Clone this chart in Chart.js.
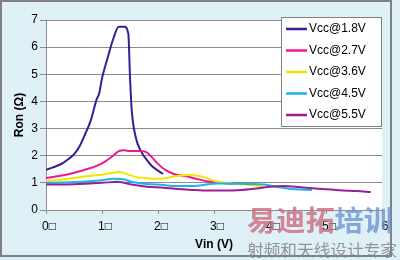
<!DOCTYPE html>
<html>
<head>
<meta charset="utf-8">
<script src="https://cdn.jsdelivr.net/npm/chart.js"></script>
<style>
  body { margin: 0; background: #dff0f7; }
  #wrap { width: 400px; height: 260px; }
</style>
</head>
<body>
<div id="wrap"><canvas id="chart" width="400" height="260"></canvas></div>
<script>
// Ron vs Vin, one curve per supply voltage
var seriesNames = ["Vcc@1.8V", "Vcc@2.7V", "Vcc@3.6V", "Vcc@4.5V", "Vcc@5.5V"];
var seriesColors = ["#3a1c94", "#f0168e", "#f2e600", "#1cb2ea", "#9a1e94"];

var vin18 = [0, 0.1, 0.2, 0.3, 0.4, 0.5, 0.6, 0.7, 0.8, 0.9, 0.95, 1.0, 1.1, 1.2, 1.3, 1.4, 1.47, 1.5, 1.53, 1.6, 1.7, 1.8, 1.9, 2.0, 2.09];
var ron18 = [1.48, 1.55, 1.63, 1.73, 1.88, 2.05, 2.35, 2.8, 3.3, 4.05, 4.3, 4.85, 5.6, 6.3, 6.75, 6.75, 6.5, 4.9, 3.7, 2.7, 2.15, 1.85, 1.6, 1.45, 1.33];

var vin27 = [0, 0.2, 0.4, 0.6, 0.8, 1.0, 1.2, 1.3, 1.4, 1.5, 1.6, 1.7, 1.8, 1.9, 2.0, 2.1, 2.2, 2.3, 2.5, 2.7, 2.9, 3.1, 3.3, 3.45];
var ron27 = [1.18, 1.24, 1.32, 1.43, 1.55, 1.72, 2.0, 2.17, 2.2, 2.17, 2.17, 2.17, 2.12, 1.92, 1.7, 1.52, 1.4, 1.32, 1.24, 1.14, 1.05, 1.0, 0.97, 0.96];

var vin36 = [0, 0.2, 0.5, 0.8, 1.0, 1.15, 1.3, 1.45, 1.6, 1.8, 2.0, 2.2, 2.4, 2.6, 2.8, 3.0, 3.2, 3.4, 3.6, 3.9];
var ron36 = [1.07, 1.1, 1.18, 1.26, 1.3, 1.35, 1.4, 1.32, 1.22, 1.17, 1.15, 1.2, 1.27, 1.29, 1.22, 1.08, 1.0, 0.96, 0.93, 0.86];

var vin45 = [0, 0.5, 1.0, 1.2, 1.35, 1.55, 1.8, 2.1, 2.3, 2.6, 2.8, 3.05, 3.3, 3.6, 3.9, 4.1, 4.4, 4.75];
var ron45 = [1.0, 1.03, 1.1, 1.15, 1.14, 1.03, 0.96, 0.92, 0.88, 0.88, 0.92, 0.98, 0.97, 0.96, 0.94, 0.86, 0.77, 0.74];

var vin55 = [0, 0.5, 1.0, 1.28, 1.55, 1.8, 2.1, 2.3, 2.6, 2.8, 3.1, 3.5, 3.8, 4.0, 4.25, 4.5, 4.75, 5.0, 5.3, 5.55, 5.8];
var ron55 = [0.94, 0.95, 1.0, 1.04, 0.93, 0.86, 0.82, 0.78, 0.74, 0.72, 0.72, 0.74, 0.8, 0.86, 0.88, 0.85, 0.8, 0.76, 0.72, 0.7, 0.66];

var xTickLabels = ["0\u25A1", "1\u25A1", "2\u25A1", "3\u25A1", "4\u25A1", "5\u25A1", "6"];

var allVin = [vin18, vin27, vin36, vin45, vin55];
var allRon = [ron18, ron27, ron36, ron45, ron55];

function toPoints(xs, ys) {
  var pts = [];
  for (var i = 0; i < xs.length; i++) {
    pts.push({ x: xs[i], y: ys[i] });
  }
  return pts;
}

var datasets = [];
for (var s = 0; s < seriesNames.length; s++) {
  datasets.push({
    label: seriesNames[s],
    data: toPoints(allVin[s], allRon[s]),
    borderColor: seriesColors[s],
    backgroundColor: seriesColors[s],
    borderWidth: 2,
    showLine: true,
    pointRadius: 0,
    cubicInterpolationMode: "monotone",
    order: seriesNames.length - s
  });
}

var font = '"Liberation Sans", Arial, sans-serif';

// light blue frame + white plot area
var backdrop = {
  id: "backdrop",
  beforeDraw: function (chart) {
    var ctx = chart.ctx, a = chart.chartArea;
    ctx.save();
    ctx.fillStyle = "#dff0f7";
    ctx.fillRect(0, 0, chart.width, chart.height);
    ctx.strokeStyle = "#808080";
    ctx.lineWidth = 2;
    ctx.strokeRect(1, 1, 390, 255);
    ctx.fillStyle = "#ffffff";
    ctx.fillRect(a.left, a.top, a.right - a.left, a.bottom - a.top);
    ctx.restore();
  }
};

// boxed legend sitting inside the plot, like the Excel one
var boxLegend = {
  id: "boxLegend",
  afterDatasetsDraw: function (chart) {
    var ctx = chart.ctx;
    var ds = chart.data.datasets;
    ctx.save();
    ctx.fillStyle = "#ffffff";
    ctx.fillRect(281, 17, 100, 109);
    ctx.strokeStyle = "#808080";
    ctx.lineWidth = 1;
    ctx.strokeRect(281.5, 17.5, 100, 109);
    ctx.font = "12px " + font;
    ctx.textBaseline = "middle";
    for (var i = 0; i < ds.length; i++) {
      var y = 29 + i * 21.5;
      ctx.strokeStyle = ds[i].borderColor;
      ctx.lineWidth = 2.5;
      ctx.beginPath();
      ctx.moveTo(286, y);
      ctx.lineTo(307, y);
      ctx.stroke();
      ctx.fillStyle = "#000000";
      ctx.fillText(ds[i].label, 309, y);
    }
    ctx.restore();
  }
};

// site watermark in the bottom right corner
var watermark = {
  id: "watermark",
  afterDraw: function (chart) {
    var ctx = chart.ctx;
    ctx.save();
    ctx.globalAlpha = 0.8;
    ctx.textBaseline = "middle";
    ctx.font = 'bold 28px "Noto Sans CJK SC"';
    var w1 = ctx.measureText("易迪拓").width;
    var w2 = ctx.measureText("培训").width;
    var sx = 146 / (w1 + w2);
    ctx.translate(247, 220);
    ctx.scale(sx, 1);
    ctx.fillStyle = "#cc6a80";
    ctx.fillText("易迪拓", 0, 0);
    ctx.fillStyle = "#6f93cf";
    ctx.fillText("培训", w1, 0);
    ctx.restore();

    ctx.save();
    ctx.globalAlpha = 0.9;
    ctx.textBaseline = "middle";
    ctx.font = '16px "Noto Sans CJK SC"';
    var w3 = ctx.measureText("射频和天线设计专家").width;
    ctx.translate(247, 250);
    ctx.scale(150 / w3, 1);
    ctx.fillStyle = "#8a8a8a";
    ctx.fillText("射频和天线设计专家", 0, 0);
    ctx.restore();
  }
};

var ctx = document.getElementById("chart").getContext("2d");
var chart = new Chart(ctx, {
  type: "scatter",
  data: { datasets: datasets },
  options: {
    responsive: false,
    animation: false,
    devicePixelRatio: 1,
    layout: { padding: { left: 8, top: 20, right: 18, bottom: 0 } },
    plugins: {
      legend: { display: false },
      tooltip: { enabled: false }
    },
    scales: {
      x: {
        type: "linear",
        min: 0,
        max: 6,
        afterFit: function (scale) { scale.height = 50; },
        grid: { drawOnChartArea: false, drawTicks: true, tickLength: 4, color: "#8c8c8c" },
        border: { color: "#8c8c8c" },
        ticks: {
          stepSize: 1,
          maxRotation: 0,
          padding: 5,
          labelOffset: 3,
          color: "#000000",
          font: { family: font, size: 12 },
          callback: function (v) { return xTickLabels[v]; }
        },
        title: {
          display: true,
          text: "Vin (V)",
          color: "#000000",
          font: { family: font, size: 12, weight: "bold" },
          padding: { top: 0, bottom: 8 }
        }
      },
      y: {
        min: 0,
        max: 7,
        afterFit: function (scale) { scale.width = 38; },
        grid: { color: "#8c8c8c", tickLength: 6 },
        border: { color: "#8c8c8c" },
        ticks: {
          stepSize: 1,
          padding: 2,
          color: "#000000",
          font: { family: font, size: 12 }
        },
        title: {
          display: true,
          text: "Ron (Ω)",
          color: "#000000",
          font: { family: font, size: 12, weight: "bold" },
          padding: { top: 4, bottom: 0 }
        }
      }
    }
  },
  plugins: [backdrop, boxLegend, watermark]
});
</script>
</body>
</html>
